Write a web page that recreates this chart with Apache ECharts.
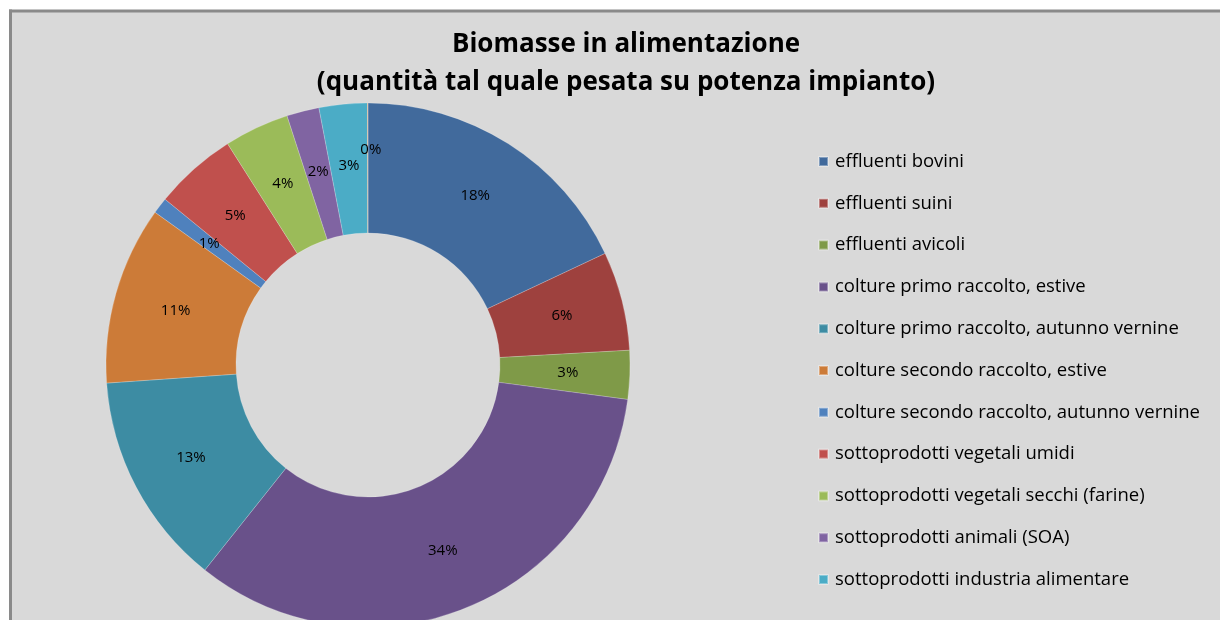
<!DOCTYPE html>
<html>
<head>
<meta charset="utf-8">
<script src="https://cdn.jsdelivr.net/npm/echarts@6/dist/echarts.min.js"></script>
<style>
  html, body { margin: 0; padding: 0; background: #ffffff; }
  #chart { width: 1220px; height: 620px; }
</style>
</head>
<body>
<div id="chart"></div>
<script>
const titleLines = ['Biomasse in alimentazione', '(quantità tal quale pesata su potenza impianto)'];
const categories = [
  'effluenti bovini',
  'effluenti suini',
  'effluenti avicoli',
  'colture primo raccolto, estive',
  'colture primo raccolto, autunno vernine',
  'colture secondo raccolto, estive',
  'colture secondo raccolto, autunno vernine',
  'sottoprodotti vegetali umidi',
  'sottoprodotti vegetali secchi (farine)',
  'sottoprodotti animali (SOA)',
  'sottoprodotti industria alimentare',
  'altro'
];
const values = [18.0, 6.1, 3.0, 33.6, 13.2, 11.0, 1.0, 5.1, 4.0, 2.0, 2.97, 0.03];
const colors = ['#416A9C', '#9E413E', '#7F9A48', '#69518A', '#3D8CA3', '#CC7B38',
                '#4F81BD', '#C0504D', '#9BBB59', '#8064A2', '#4BACC6', '#F79646'];
const legendNames = categories.slice(0, 11);

const chart = echarts.init(document.getElementById('chart'));
chart.setOption({
  backgroundColor: '#ffffff',
  animation: false,
  color: colors,
  graphic: [
    { type: 'rect', z: -10, silent: true,
      shape: { x: 10, y: 10, width: 1300, height: 700 },
      style: { fill: '#d9d9d9' } },
    { type: 'line', z: -9, silent: true,
      shape: { x1: 9, y1: 11, x2: 1230, y2: 11 },
      style: { stroke: '#8a8a8a', lineWidth: 3 } },
    { type: 'line', z: -9, silent: true,
      shape: { x1: 10.5, y1: 9.5, x2: 10.5, y2: 640 },
      style: { stroke: '#8a8a8a', lineWidth: 3 } }
  ],
  title: {
    text: titleLines.join('\n'),
    left: 626,
    textAlign: 'center',
    top: 26,
    padding: 0,
    textStyle: {
      fontFamily: 'Open Sans',
      fontWeight: 'bold',
      fontSize: 26,
      lineHeight: 38,
      color: '#000000'
    }
  },
  legend: {
    orient: 'vertical',
    left: 818,
    top: 151,
    padding: 0,
    data: legendNames,
    icon: 'rect',
    itemWidth: 9,
    itemHeight: 9,
    itemGap: 20.8,
    selectedMode: false,
    textStyle: {
      fontFamily: 'Open Sans',
      fontSize: 18.5,
      lineHeight: 21,
      color: '#000000',
      padding: [0, 0, 0, 2]
    }
  },
  series: [{
    type: 'pie',
    center: [368, 365],
    radius: [132, 262],
    startAngle: 90,
    clockwise: true,
    avoidLabelOverlap: false,
    itemStyle: { borderColor: 'rgba(255,255,255,0.35)', borderWidth: 0.6 },
    label: {
      show: true,
      position: 'inside',
      fontFamily: 'Open Sans',
      fontSize: 15,
      color: '#000000',
      formatter: p => Math.round(p.percent) + '%'
    },
    labelLine: { show: false },
    labelLayout: function (params) {
      if (params.dataIndex === 11) { return { dx: 3, dy: -15 }; }
      return {};
    },
    data: categories.map((c, i) => ({ name: c, value: values[i] }))
  }]
});
</script>
</body>
</html>
